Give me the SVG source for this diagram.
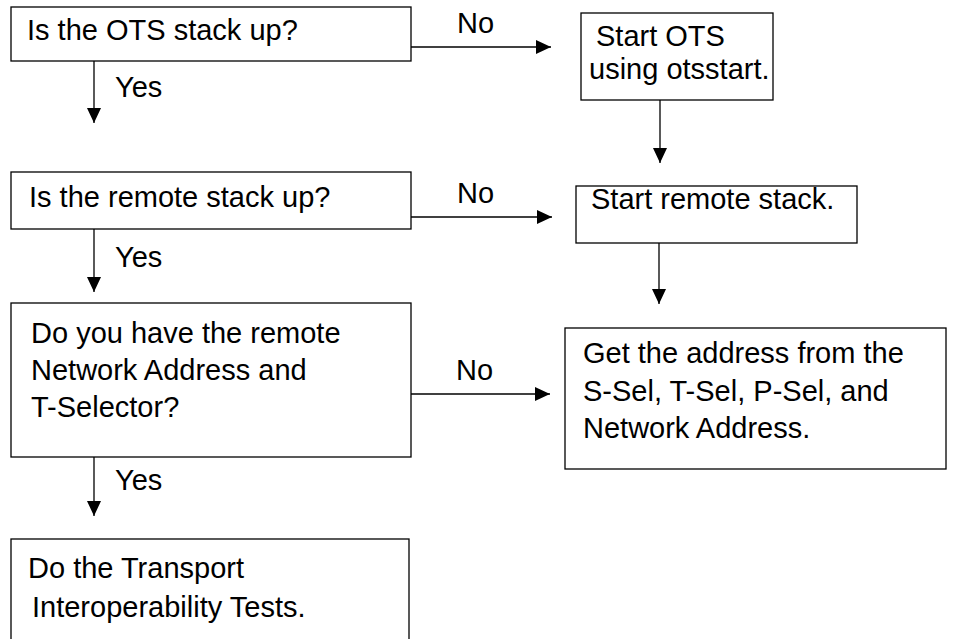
<svg xmlns="http://www.w3.org/2000/svg" width="980" height="639" viewBox="0 0 980 639">
<style>
.box{fill:#fff;stroke:#000;stroke-width:1.3}
.t{font-family:"Liberation Sans",Arial,sans-serif;font-size:29px;fill:#000}
.c{stroke:#000;stroke-width:1.3;fill:none;marker-end:url(#ah)}
</style>
<defs>
<marker id="ah" markerUnits="userSpaceOnUse" markerWidth="16" markerHeight="16" viewBox="0 0 16 16" refX="15" refY="8" orient="auto">
<path d="M0,1 L15,8 L0,15 Z" fill="#000"/>
</marker>
</defs>
<rect width="980" height="639" fill="#fff"/>
<g id="connectors">
<line class="c" x1="94" y1="61" x2="94" y2="123"/>
<text class="t" x="115" y="97">Yes</text>
<line class="c" x1="411" y1="47" x2="551" y2="47"/>
<text class="t" x="457" y="33">No</text>
<line class="c" x1="660" y1="100" x2="660" y2="163"/>
<line class="c" x1="94" y1="229" x2="94" y2="292"/>
<text class="t" x="115" y="267">Yes</text>
<line class="c" x1="411" y1="217" x2="552" y2="217"/>
<text class="t" x="457" y="203">No</text>
<line class="c" x1="659" y1="243" x2="659" y2="304"/>
<line class="c" x1="411" y1="394" x2="550" y2="394"/>
<text class="t" x="456" y="380">No</text>
<line class="c" x1="94" y1="457" x2="94" y2="516"/>
<text class="t" x="115" y="490">Yes</text>
</g>
<g id="n1">
<rect class="box" x="11" y="7" width="400" height="54"/>
<text class="t" x="27" y="40">Is the OTS stack up?</text>
</g>
<g id="n2">
<rect class="box" x="581" y="13" width="192" height="87"/>
<text class="t" x="596" y="46">Start OTS</text>
<text class="t" x="589" y="79">using otsstart.</text>
</g>
<g id="n3">
<rect class="box" x="11" y="172" width="400" height="57"/>
<text class="t" x="29" y="207">Is the remote stack up?</text>
</g>
<g id="n4">
<rect class="box" x="576" y="186" width="281" height="57"/>
<text class="t" x="591" y="209">Start remote stack.</text>
</g>
<g id="n5">
<rect class="box" x="11" y="303" width="400" height="154"/>
<text class="t" x="31" y="343">Do you have the remote</text>
<text class="t" x="31" y="380">Network Address and</text>
<text class="t" x="31" y="417">T-Selector?</text>
</g>
<g id="n6">
<rect class="box" x="565" y="328" width="381" height="141"/>
<text class="t" x="583" y="363">Get the address from the</text>
<text class="t" x="583" y="401">S-Sel, T-Sel, P-Sel, and</text>
<text class="t" x="583" y="438">Network Address.</text>
</g>
<g id="n7">
<rect class="box" x="11" y="539" width="398" height="110"/>
<text class="t" x="28" y="578">Do the Transport</text>
<text class="t" x="32" y="617">Interoperability Tests.</text>
</g>
</svg>
